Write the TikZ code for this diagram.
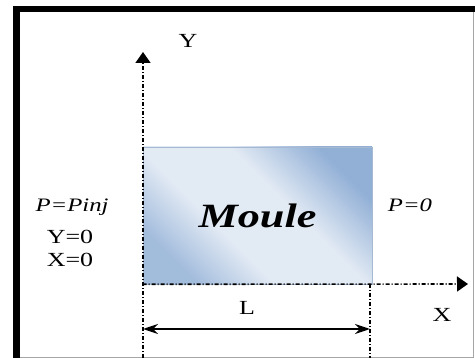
\documentclass[tikz,border=0pt]{standalone}
\usepackage{fontspec}
\setmainfont[FakeStretch=1.3]{Liberation Serif}
\definecolor{mouleblue}{RGB}{146,176,214}
\definecolor{moulelight}{RGB}{226,234,244}
\definecolor{mouleedge}{RGB}{165,185,210}
\usetikzlibrary{positioning,arrows.meta}
\pgfdeclarehorizontalshading{moulefill}{100bp}{color(0bp)=(mouleblue!85); color(25bp)=(mouleblue!85); color(40bp)=(moulelight); color(58bp)=(moulelight); color(75bp)=(mouleblue); color(100bp)=(mouleblue)}

\begin{document}
\begin{tikzpicture}[x=1pt,y=-1pt,
    box/.style={rectangle,draw=mouleedge,line width=0.6pt,shading=moulefill,shading angle=45,minimum width=229pt,minimum height=137pt,inner sep=0pt},
    axis/.style={line width=1.6pt,dash pattern=on 4pt off 2pt on 1pt off 2pt,-{Triangle[length=11pt,width=15pt]}},
    guide/.style={line width=1.2pt,dash pattern=on 4pt off 2pt on 1pt off 2pt},
    dim/.style={line width=2pt,{Stealth[length=15pt,width=10pt]}-{Stealth[length=15pt,width=10pt]}},
    lbl/.style={font=\fontsize{20}{22}\selectfont,inner sep=0pt},
    itlbl/.style={font=\fontsize{19}{21}\selectfont\itshape,inner sep=0pt}
]
    \useasboundingbox (0,0) rectangle (475,358);
    % frame
    \draw[line width=6.5pt] (16.5,358) -- (16.5,9) -- (475,9);
    \draw[gray!70,line width=1pt] (473.5,12) -- (473.5,357.5) -- (20,357.5);

    \node[box,font=\fontsize{34}{36}\selectfont\bfseries\itshape] (moule) at (257.5,215.5) {Moule};

    % axes
    \coordinate (ybot) at (143,358);
    \coordinate (ytip) at (143,52);
    \coordinate (xtip) at (468,284);
    \coordinate (rtop) at (370,284);
    \coordinate (rbot) at (370,358);
    \draw[axis] (ybot) -- (ytip);
    \draw[axis] (moule.south west) -- (xtip);
    \draw[guide] (rtop) -- (rbot);

    % length L
    \coordinate (la) at (143,329);
    \coordinate (lb) at (370,329);
    \draw[dim] (la) -- (lb);

    \node[lbl] (ylab) at (188,41) {Y};
    \node[lbl] (llab) at (247,308) {L};
    \node[lbl] (xlab) at (442,315) {X};
    \node[itlbl] (pinj) at (72,207) {P=Pinj};
    \node[lbl] (y0) at (70,237) {Y=0};
    \node[lbl] (x0) at (70,260) {X=0};
    \node[itlbl] (p0) at (410,205) {P=0};
\end{tikzpicture}
\end{document}
